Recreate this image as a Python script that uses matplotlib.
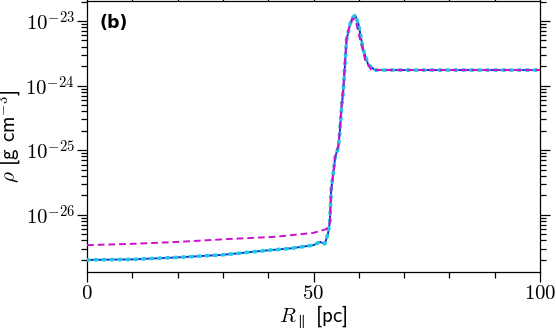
import matplotlib
matplotlib.use('Agg')
import matplotlib.pyplot as plt
from matplotlib.ticker import MultipleLocator, LogLocator, NullFormatter, FuncFormatter
import numpy as np

plt.rcParams['mathtext.fontset'] = 'cm'
plt.rcParams['font.family'] = ['cmss10', 'DejaVu Sans']
plt.rcParams['axes.unicode_minus'] = False

# density profile along R_par (blue solid / cyan dotted)
r_blue = [0, 10, 20, 30, 40, 45, 50, 51.4, 52.5, 53.2, 53.6, 53.9, 54.8, 55.5,
          55.85, 56.2, 56.6, 57.3, 58.1, 58.6, 59.2, 59.9, 61.0, 62.1, 63.6, 65, 100]
rho_blue = [2.00e-27, 2.04e-27, 2.19e-27, 2.40e-27, 2.82e-27, 3.02e-27, 3.39e-27,
            3.80e-27, 3.55e-27, 5.13e-27, 7.59e-27, 2.40e-26, 7.94e-26, 1.12e-25,
            2.04e-25, 4.68e-25, 8.51e-25, 5.13e-24, 9.12e-24, 1.12e-23, 1.23e-23,
            9.12e-24, 3.55e-24, 2.09e-24, 1.74e-24, 1.74e-24, 1.74e-24]
r_cyan = r_blue
rho_cyan = rho_blue

# magenta dashed
r_mag = [0, 10, 20, 30, 41.7, 50, 52.9, 53.6, 53.9, 54.8, 55.5, 56.2, 56.6, 57.3,
         58.1, 58.8, 59.5, 60.3, 61.4, 62.8, 65, 100]
rho_mag = [3.39e-27, 3.55e-27, 3.80e-27, 4.17e-27, 4.57e-27, 5.25e-27, 6.03e-27,
           7.59e-27, 2.40e-26, 7.94e-26, 1.20e-25, 5.01e-25, 1.00e-24, 5.62e-24,
           8.91e-24, 1.10e-23, 8.91e-24, 5.13e-24, 2.51e-24, 1.74e-24, 1.74e-24, 1.74e-24]

fig = plt.figure(figsize=(5.56, 3.30), dpi=100)
ax = fig.add_axes([0.1565, 0.177, 0.8147, 0.820])

ax.plot(r_blue, rho_blue, color='#1010ee', lw=1.3, zorder=3)
ax.plot(r_cyan, rho_cyan, color='#20c8d8', lw=2.6, ls=(0, (0.6, 1.6)),
        dash_capstyle='round', zorder=4)
ax.plot(r_mag, rho_mag, color='#cc10cc', lw=1.4, ls=(0, (3.5, 2.0)), zorder=5)

ax.set_yscale('log')
ax.set_xlim(0, 100)
ax.set_ylim(1.32e-27, 2.04e-23)

ax.xaxis.set_major_locator(MultipleLocator(50))
ax.xaxis.set_minor_locator(MultipleLocator(10))
ax.xaxis.set_major_formatter(FuncFormatter(lambda v, p: r'$%d$' % round(v)))
ax.yaxis.set_major_locator(LogLocator(base=10, numticks=10))
ax.yaxis.set_minor_locator(LogLocator(base=10, subs=range(2, 10), numticks=20))
ax.yaxis.set_major_formatter(FuncFormatter(lambda v, p: r'$10^{%d}$' % round(np.log10(v))))
ax.yaxis.set_minor_formatter(NullFormatter())

ax.tick_params(which='both', direction='out', top=True, right=True,
               labelsize=15, width=0.9, pad=2)
ax.tick_params(which='major', length=7)
ax.tick_params(which='minor', length=4)
for sp in ax.spines.values():
    sp.set_linewidth(0.9)

ax.set_xlabel(r'$R_{\parallel}$ [pc]', fontsize=15, labelpad=0)
ax.set_ylabel(r'$\rho$ [g cm$^{-3}$]', fontsize=15, labelpad=1)

ax.text(0.028, 0.90, '(b)', transform=ax.transAxes, fontsize=12.5,
        fontweight='bold', family='DejaVu Sans')

fig.savefig('out.png', dpi=100)
